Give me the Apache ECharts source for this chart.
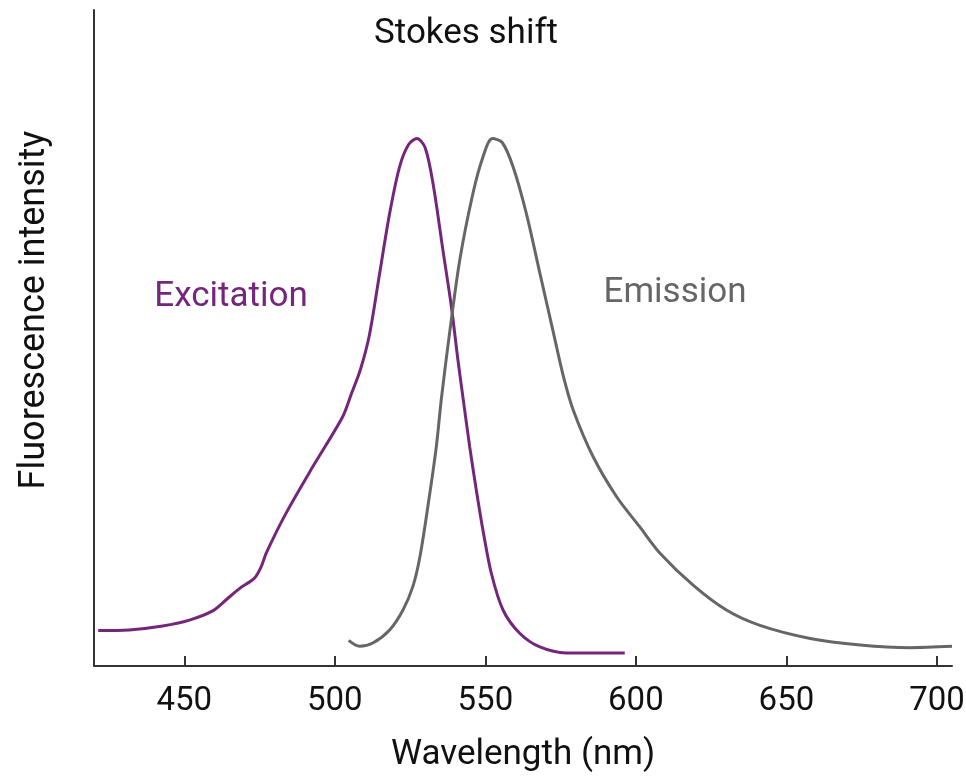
<!DOCTYPE html>
<html>
<head>
<meta charset="utf-8">
<title>Stokes shift</title>
<script src="https://cdn.jsdelivr.net/npm/echarts@6.0.0/dist/echarts.min.js"></script>
<style>
  html, body { margin: 0; padding: 0; background: #fff; }
  #myChartMain { width: 966px; height: 777px; }
</style>
</head>
<body>
<div id="myChartMain"></div>
<script>
// Excitation / emission spectra (wavelength in nm, intensity in arbitrary units)

var excitationNm = [421.4, 431.7, 442.8, 451.7, 459.4, 463.9, 468.3, 473.3, 475.5, 477.2,
    483.8, 492.7, 502.6, 505.5, 508.5, 511.5, 514.9, 518.2, 521.5, 524.5, 527.3, 530.0,
    532.6, 535.9, 538.7, 540.9, 542.6, 544.8, 547.0, 549.2, 552.0, 555.9, 561.4, 568.1,
    576.9, 596.3];
var excitationVal = [5.4, 5.5, 6.1, 7.0, 8.4, 10.1, 11.8, 13.4, 15.1, 17.2,
    23.3, 30.4, 38.0, 41.5, 45.2, 50.5, 59.9, 69.0, 76.1, 79.5, 80.4, 79.0,
    73.6, 63.4, 54.8, 46.6, 40.8, 33.4, 26.8, 20.7, 14.1, 8.5, 5.0, 2.9,
    2.0, 2.0];

var emissionNm = [504.6, 508.2, 512.6, 518.2, 522.6, 525.9, 528.2, 530.9, 533.7, 535.4,
    538.1, 541.5, 545.9, 549.2, 552.3, 555.6, 559.2, 563.6, 568.1, 572.5, 576.0, 579.2,
    585.8, 593.6, 601.3, 608.0, 619.1, 630.2, 641.2, 657.9, 674.5, 691.1, 705.0];
var emissionVal = [3.9, 3.0, 3.5, 5.5, 8.5, 12.1, 16.5, 24.3, 33.4, 40.8,
    50.7, 61.9, 72.1, 77.6, 80.4, 79.8, 76.1, 69.0, 59.9, 51.0, 44.0, 39.0,
    31.9, 25.8, 21.2, 17.2, 12.3, 8.5, 6.2, 4.2, 3.2, 2.8, 3.0];

var xTicks = [450, 500, 550, 600, 650, 700];

var purple = '#74267a';
var grey = '#666666';
var font = 'Roboto, "DejaVu Sans", sans-serif';

function pairs(xs, ys) {
    var out = [];
    for (var i = 0; i < xs.length; i++) {
        out.push([xs[i], ys[i]]);
    }
    return out;
}

var myChart = echarts.init(document.getElementById('myChartMain'));

var option = {
    backgroundColor: '#ffffff',
    animation: false,
    grid: {
        left: 94,
        right: 14,
        top: 10,
        bottom: 111,
        outerBoundsMode: 'none'
    },
    xAxis: {
        type: 'value',
        min: 420,
        max: 705,
        name: 'Wavelength (nm)',
        nameLocation: 'middle',
        nameGap: 72,
        nameTextStyle: {
            color: '#111',
            fontSize: 35,
            fontFamily: font
        },
        axisLine: {
            show: true,
            lineStyle: { color: '#333', width: 2 }
        },
        axisTick: {
            show: true,
            inside: true,
            length: 10,
            customValues: xTicks,
            lineStyle: { color: '#333', width: 2 }
        },
        axisLabel: {
            customValues: xTicks,
            margin: 19,
            color: '#111',
            fontSize: 33,
            fontFamily: font
        },
        splitLine: { show: false }
    },
    yAxis: {
        type: 'value',
        min: 0,
        max: 100,
        axisLine: {
            show: true,
            lineStyle: { color: '#333', width: 2 }
        },
        axisTick: { show: false },
        axisLabel: { show: false },
        splitLine: { show: false }
    },
    graphic: [
        {
            type: 'text',
            x: 35,
            y: 310,
            rotation: Math.PI / 2,
            style: {
                text: 'Fluorescence intensity',
                fill: '#111',
                font: '36px ' + font,
                align: 'center',
                verticalAlign: 'middle'
            }
        },
        {
            type: 'text',
            x: 466,
            y: 34,
            style: {
                text: 'Stokes shift',
                fill: '#111',
                font: '35px ' + font,
                align: 'center',
                verticalAlign: 'middle'
            }
        },
        {
            type: 'text',
            x: 231,
            y: 297,
            style: {
                text: 'Excitation',
                fill: purple,
                font: '35px ' + font,
                align: 'center',
                verticalAlign: 'middle'
            }
        },
        {
            type: 'text',
            x: 675,
            y: 293,
            style: {
                text: 'Emission',
                fill: grey,
                font: '35px ' + font,
                align: 'center',
                verticalAlign: 'middle'
            }
        }
    ],
    series: [
        {
            name: 'Excitation',
            type: 'line',
            data: pairs(excitationNm, excitationVal),
            smooth: 0.3,
            showSymbol: false,
            lineStyle: { color: purple, width: 3 }
        },
        {
            name: 'Emission',
            type: 'line',
            data: pairs(emissionNm, emissionVal),
            smooth: 0.3,
            showSymbol: false,
            lineStyle: { color: grey, width: 3 }
        }
    ]
};

myChart.setOption(option);
</script>
</body>
</html>
